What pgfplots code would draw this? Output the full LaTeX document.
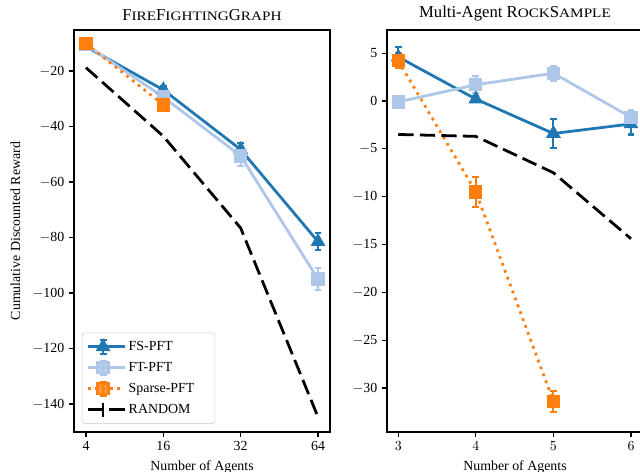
\documentclass[border=0pt]{standalone}
\usepackage{fontspec}
\setmainfont{Liberation Serif}
\newfontfamily\scfont[FakeStretch=1.18]{Liberation Serif}
\usepackage{pgfplots}
\pgfplotsset{compat=1.18}
\definecolor{cFS}{HTML}{1F77B4}
\definecolor{cFT}{HTML}{AEC7E8}
\definecolor{cSP}{HTML}{FF7F0E}
\newcommand{\smc}[1]{{\scfont\fontsize{9.3}{11}\selectfont #1}}
\newcommand{\legtxt}[1]{\makebox[57pt][l]{#1}}
\pgfplotsset{
  errleg/.style={legend image code/.code={
    \path (0pt,0pt) -- (26.5pt,0pt);
    \draw[##1,mark=none] (0pt,0pt) -- (22pt,0pt);
    \draw[##1,solid,mark=none,line width=1.5pt] (11pt,-5pt) -- (11pt,5pt);
    \draw[##1,solid,mark=none,line width=1.5pt] (8.5pt,-5pt)--(13.5pt,-5pt) (8.5pt,5pt)--(13.5pt,5pt);
    \draw[##1,only marks] plot coordinates {(11pt,0pt)};
  }},
  randleg/.style={legend image code/.code={
    \path (0pt,0pt) -- (26.5pt,0pt);
    \draw[##1] (0pt,0pt) -- (22pt,0pt);
    \draw[##1,solid,line width=2pt] (11pt,-5pt) -- (11pt,5pt);
  }},
  myaxis/.style={
    scale only axis, width=184.32pt, height=289.44pt,
    anchor=south west,
    axis line style={line width=0.8pt},
    tick align=outside, tick pos=left,
    major tick length=3.5pt,
    tick style={line width=0.8pt, black},
    ticklabel style={font=\fontsize{10}{12}\selectfont},
    label style={font=\fontsize{10}{12}\selectfont},
    title style={font=\fontsize{12}{14}\selectfont, yshift=-2.8pt},
    every axis plot/.append style={line width=2pt},
    error bars/error bar style={line width=1.5pt, solid},
    error bars/error mark options={rotate=90, mark size=2.5pt, line width=1.5pt, solid},
    xlabel={Number of Agents},
    xlabel style={yshift=0pt},
  },
  fs/.style={color=cFS, mark=triangle*, mark size=4.2pt, mark options={solid}, error bars/y dir=both, error bars/y explicit},
  ft/.style={color=cFT, mark=square*, mark size=3.8pt, mark options={solid}, error bars/y dir=both, error bars/y explicit},
  sp/.style={color=cSP, dash pattern=on 2pt off 3.3pt, mark=square*, mark size=3.8pt, mark options={solid}, error bars/y dir=both, error bars/y explicit},
  rnd/.style={color=black, dash pattern=on 11pt off 4.5pt},
}
\begin{document}
\begin{tikzpicture}
\useasboundingbox (0,0) rectangle (460.8pt,339.84pt);
\begin{axis}[myaxis,
  at={(53.28pt,28.8pt)},
  title={F\smc{IRE}F\smc{IGHTING}G\smc{RAPH}},
  xmin=-0.155, xmax=3.155,
  ymin=-150.1, ymax=-5.22,
  xtick={0,1,2,3}, xticklabels={4,16,32,64},
  ytick={-140,-120,-100,-80,-60,-40,-20},
  yticklabels={$-$140,$-$120,$-$100,$-$80,$-$60,$-$40,$-$20},
  ylabel={Cumulative Discounted Reward},
  ylabel style={yshift=2pt},
  legend cell align=left,
  legend style={at={(0.031,0.02)}, anchor=south west, draw=black!20, rounded corners=2pt, fill=white, fill opacity=0.8, text opacity=1, font=\fontsize{10}{12}\selectfont, row sep=3pt, inner xsep=3pt, inner ysep=4pt},
]
\addplot+[fs, errleg] coordinates {(0,-11.2) +- (0,1.0) (1,-26.8) +- (0,1.5) (2,-48.3) +- (0,2.5) (3,-81.5) +- (0,3.0)};
\addlegendentry{\legtxt{FS-PFT}}
\addplot+[ft, errleg] coordinates {(0,-10.5) +- (0,1.0) (1,-29.4) +- (0,1.8) (2,-50.6) +- (0,3.5) (3,-95.0) +- (0,4.0)};
\addlegendentry{\legtxt{FT-PFT}}
\addplot+[sp, errleg] coordinates {(0,-10.1) +- (0,0.8) (1,-32.2) +- (0,1.0)};
\addlegendentry{\legtxt{Sparse-PFT}}
\addplot+[rnd, mark=none, randleg] coordinates {(0,-18.8) (1,-43.5) (2,-76.6) (3,-144.7)};
\addlegendentry{\legtxt{RANDOM}}
\end{axis}
\begin{axis}[myaxis,
  at={(278.64pt,28.8pt)},
  title={Multi-Agent R\smc{OCK}S\smc{AMPLE}},
  xmin=2.855, xmax=6.155,
  ymin=-34.6, ymax=7.42,
  xtick={3,4,5,6},
  ytick={-30,-25,-20,-15,-10,-5,0,5},
  yticklabels={$-$30,$-$25,$-$20,$-$15,$-$10,$-$5,0,5},
]
\addplot+[fs] coordinates {(3,4.6) +- (0,1.0) (4,0.2) +- (0,0.3) (5,-3.4) +- (0,1.5) (6,-2.4) +- (0,1.1)};
\addplot+[ft] coordinates {(3,-0.1) +- (0,0.3) (4,1.7) +- (0,0.9) (5,2.9) +- (0,0.8) (6,-1.7) +- (0,0.8)};
\addplot+[sp] coordinates {(3,4.2) +- (0,0.8) (4,-9.5) +- (0,1.6) (5,-31.4) +- (0,1.1)};
\addplot+[rnd, mark=none] coordinates {(3,-3.5) (4,-3.7) (5,-7.5) (6,-14.4)};
\end{axis}
\end{tikzpicture}
\end{document}
